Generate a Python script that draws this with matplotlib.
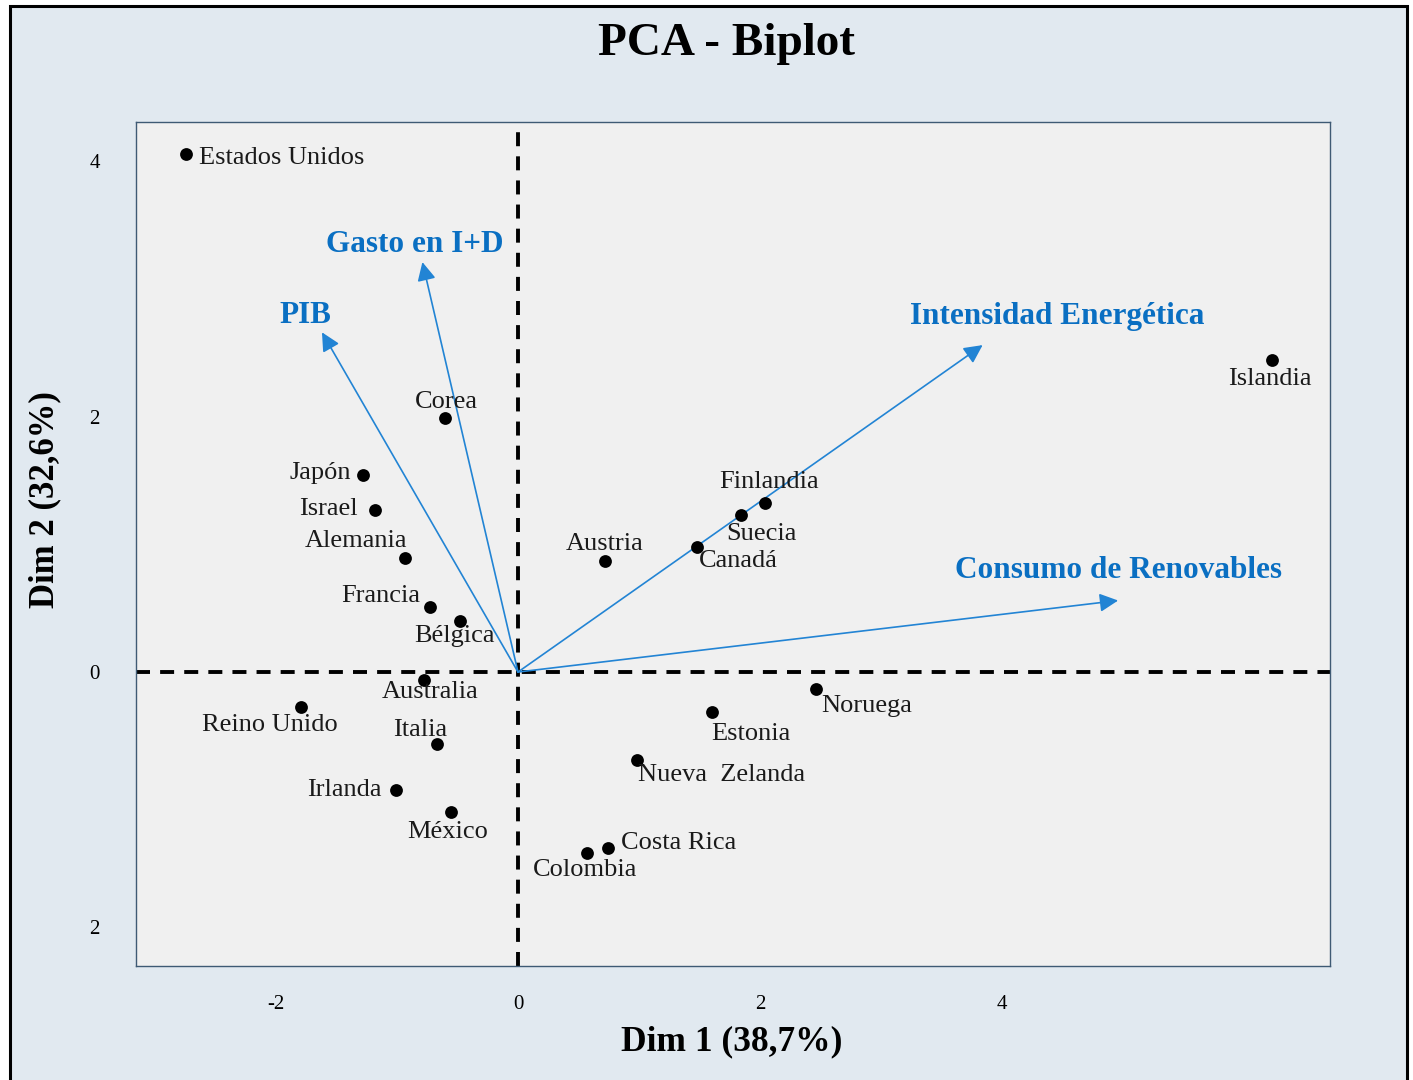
"""
PCA biplot of countries on the first two dimensions, with variable loadings
drawn as arrows from the origin.
"""

import matplotlib
matplotlib.use("Agg")
import matplotlib.pyplot as plt
from matplotlib.patches import Rectangle

# ---- data -------------------------------------------------------------
countries = ["Estados Unidos", "Corea", "Japón", "Israel", "Alemania",
             "Francia", "Bélgica", "Australia", "Reino Unido", "Italia",
             "Irlanda", "México", "Austria", "Finlandia", "Suecia", "Canadá",
             "Islandia", "Noruega", "Estonia", "Nueva  Zelanda", "Costa Rica",
             "Colombia"]
dim1 = [-2.74, -0.60, -1.28, -1.18, -0.93, -0.73, -0.48, -0.78, -1.79, -0.67,
        -1.01, -0.55, 0.72, 2.04, 1.84, 1.48, 6.23, 2.46, 1.60, 0.98, 0.74,
        0.57]
dim2 = [4.06, 1.99, 1.54, 1.27, 0.89, 0.51, 0.40, -0.06, -0.27, -0.56,
        -0.92, -1.10, 0.87, 1.32, 1.23, 0.98, 2.44, -0.13, -0.31, -0.69,
        -1.38, -1.42]

variables = ["PIB", "Gasto en I+D", "Intensidad Energética",
             "Consumo de Renovables"]
load1 = [-1.62, -0.79, 3.84, 4.96]
load2 = [2.66, 3.21, 2.56, 0.56]

xtick_vals = [-2, 0, 2, 4]
xtick_text = ["-2", "0", "2", "4"]
ytick_vals = [4, 2, 0, -2]
ytick_text = ["4", "2", "0", "2"]

# label placement for each country: (ha, dx px, dy px)
country_pos = [("left", 13, -4), ("center", 1, 16), ("right", -12, 2),
               ("right", -17, 1), ("center", -49, 17), ("right", -9, 11),
               ("center", -5, -15), ("center", 6, -12), ("center", -32, -18),
               ("center", -17, 14), ("right", -14, 0), ("center", -4, -20),
               ("center", 0, 17), ("center", 4, 21), ("center", 21, -19),
               ("center", 41, -14), ("center", -2, -19), ("left", 6, -17),
               ("center", 39, -22), ("left", 1, -15), ("left", 13, 5),
               ("center", -2, -17)]
var_pos = [(-17, 17), (-8, 18), (75, 29), (0, 30)]

SERIF = "Liberation Serif"
BLUE_TXT = "#0a6fc2"
BLUE_LINE = "#2284d4"
W, H = 1413, 1080
PX = 72 / 100  # points per pixel at dpi=100


def main():
    fig = plt.figure(figsize=(W / 100, H / 100), dpi=100, facecolor="white")
    fig.add_artist(Rectangle((10 / W, -0.01), 1397 / W, 1 - 6 / H + 0.01,
                             transform=fig.transFigure, facecolor="#e1e9f0",
                             edgecolor="black", linewidth=2.2, zorder=0))

    ax = fig.add_axes([136 / W, (H - 966) / H, (1330 - 136) / W, (966 - 122) / H])
    ax.set_facecolor("#f0f0f0")
    ax.set_xlim(-3.157, 6.711)
    ax.set_ylim(-2.302, 4.307)
    for s in ax.spines.values():
        s.set_color("#3e5a74")
        s.set_linewidth(1.0)

    ax.set_xticks(xtick_vals, xtick_text)
    ax.set_yticks(ytick_vals, ytick_text)
    ax.tick_params(axis="x", length=0, labelsize=15, pad=21)
    ax.tick_params(axis="y", length=0, labelsize=15, pad=26)
    for lab in ax.get_xticklabels() + ax.get_yticklabels():
        lab.set_fontfamily(SERIF)

    dash = (0, (3.6, 2.6))
    ax.axhline(0, color="black", lw=2.8, linestyle=dash, zorder=1)
    ax.axvline(0, color="black", lw=2.8, linestyle=dash, zorder=1)

    # loadings
    for name, lx, ly, (dx, dy) in zip(variables, load1, load2, var_pos):
        ax.annotate("", xy=(lx, ly), xytext=(0, 0),
                    arrowprops=dict(arrowstyle="-|>", color=BLUE_LINE, lw=1.2,
                                    mutation_scale=28, shrinkA=0, shrinkB=0),
                    zorder=3)
        ax.annotate(name, xy=(lx, ly), xytext=(dx * PX, dy * PX),
                    textcoords="offset points", ha="center", va="center",
                    fontsize=22.5, fontweight="bold", color=BLUE_TXT,
                    fontfamily=SERIF, zorder=4)

    # countries
    ax.scatter(dim1, dim2, s=85, color="black", zorder=5, linewidths=0)
    for name, x, y, (ha, dx, dy) in zip(countries, dim1, dim2, country_pos):
        ax.annotate(name, xy=(x, y), xytext=(dx * PX, dy * PX),
                    textcoords="offset points", ha=ha, va="center",
                    fontsize=19, color="#1a1a1a", fontfamily=SERIF, zorder=6)

    fig.text(726 / W, 1 - 44 / H, "PCA - Biplot", ha="center", va="center",
             fontsize=34, fontweight="bold", fontfamily=SERIF)
    fig.text(732 / W, 1 - 1042 / H, "Dim 1 (38,7%)", ha="center", va="center",
             fontsize=25.5, fontweight="bold", fontfamily=SERIF)
    fig.text(45 / W, 1 - 500 / H, "Dim 2 (32,6%)", ha="center", va="center",
             rotation=90, fontsize=25, fontweight="bold", fontfamily=SERIF)

    fig.savefig("out.png", dpi=100, facecolor=fig.get_facecolor())
    plt.close(fig)


if __name__ == "__main__":
    main()
